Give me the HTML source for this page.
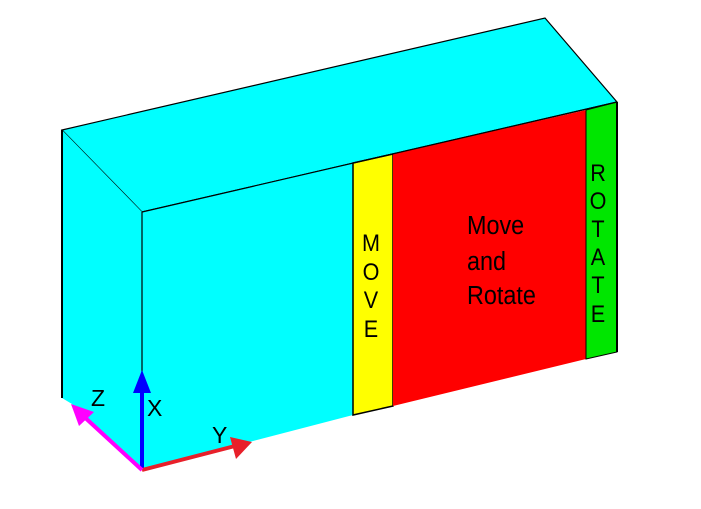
<!DOCTYPE html>
<html><head><meta charset="utf-8"><style>
html,body{margin:0;padding:0;background:#fff;width:701px;height:509px;overflow:hidden}
text{font-family:"Liberation Sans",sans-serif;fill:#000}
</style></head><body>
<svg width="701" height="509" viewBox="0 0 701 509">
<polygon points="62,130 545,18 617,102 142,212" fill="#00ffff" stroke="#000" stroke-width="1.2"/>
<polygon points="62,130 142,212 142,470 72,404 62,398" fill="#00ffff"/>
<line x1="62" y1="130" x2="62" y2="398" stroke="#000" stroke-width="2"/>
<polygon points="142,212 353,163 353,415 142,470" fill="#00ffff"/>
<polygon points="353,163 393,154 393,406 353,415" fill="#ffff00" stroke="#000" stroke-width="1.5"/>
<polygon points="393,154 586,110 586,359 393,406" fill="#ff0000"/>
<polygon points="586,110 617,102 617,352 586,359" fill="#00e600" stroke="#000" stroke-width="1"/>
<line x1="142" y1="212" x2="142" y2="470" stroke="#000" stroke-width="1.2"/>
<line x1="142" y1="212" x2="617" y2="102" stroke="#000" stroke-width="1.2"/>
<line x1="617" y1="102" x2="617" y2="352" stroke="#000" stroke-width="2"/>
<g font-size="24" text-anchor="middle" transform="translate(371,0) scale(0.9,1)">
<text x="0" y="251">M</text><text x="0" y="280">O</text><text x="0" y="308">V</text><text x="0" y="337">E</text></g>
<g font-size="26" transform="translate(467,0) scale(0.9,1)">
<text x="0" y="234">Move</text><text x="0" y="270">and</text><text x="0" y="304">Rotate</text></g>
<g font-size="24" text-anchor="middle" transform="translate(598,0) scale(0.9,1)">
<text x="0" y="181">R</text><text x="0" y="209">O</text><text x="0" y="237">T</text><text x="0" y="265">A</text><text x="0" y="293">T</text><text x="0" y="322">E</text></g>
<g>
<line x1="142" y1="470" x2="142" y2="385" stroke="#0000ff" stroke-width="4"/>
<polygon points="142,370 133,393 151,393" fill="#0000ff"/>
<line x1="142" y1="470" x2="235" y2="446" stroke="#e8202a" stroke-width="4"/>
<polygon points="252,442 230,437 236,459" fill="#e8202a"/>
<line x1="142" y1="470" x2="80" y2="413" stroke="#ff00ff" stroke-width="4"/>
<polygon points="71,404 79,426 94,412" fill="#ff00ff"/>
<text x="91" y="406" font-size="23">Z</text>
<text x="147" y="416" font-size="23">X</text>
<text x="212" y="443" font-size="23">Y</text>
</g>
</svg>
</body></html>
